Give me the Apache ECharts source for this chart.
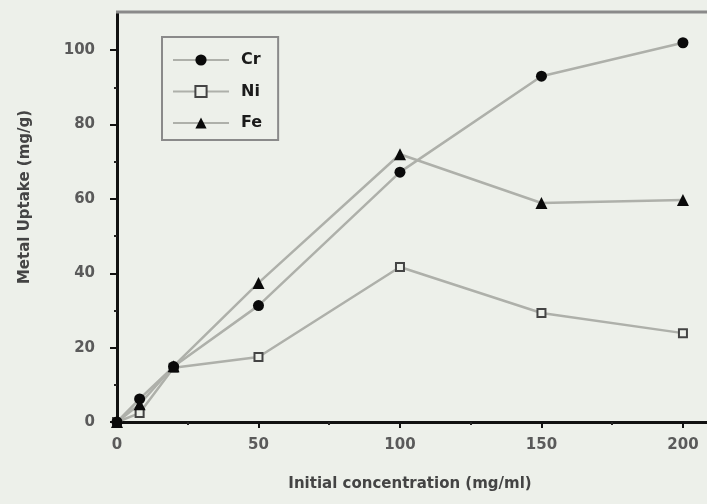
<!DOCTYPE html>
<html>
<head>
<meta charset="utf-8">
<script src="https://cdn.jsdelivr.net/npm/echarts@6/dist/echarts.min.js"></script>
<style>html,body{margin:0;padding:0;background:#edf0ea;}#c{width:707px;height:504px;}</style>
</head>
<body>
<div id="c"></div>
<script>
const xValues = [0, 8, 20, 50, 100, 150, 200];
const crValues = [0, 6.2, 14.9, 31.3, 67.2, 93, 102];
const niValues = [0, 2.4, 14.6, 17.5, 41.7, 29.3, 23.9];
const feValues = [0, 4.8, 15, 37.4, 72, 58.9, 59.7];
const xTicks = [0, 50, 100, 150, 200];
const xMinorTicks = [25, 75, 125, 175];
const yTicks = [0, 20, 40, 60, 80, 100];
const yMinorTicks = [10, 30, 50, 70, 90];

const pairs = v => xValues.map((x, i) => [x, v[i]]);
const font = 'DejaVu Sans';
const lineCol = '#aeb0aa';
const bg = '#edf0ea';

const chart = echarts.init(document.getElementById('c'), null, {renderer: 'canvas'});
chart.setOption({
  backgroundColor: bg,
  animation: false,
  grid: {left: 117, right: 0, top: 13, bottom: 82},
  legend: {
    left: 162, top: 37, orient: 'vertical',
    padding: [15, 16, 9, 10],
    itemWidth: 56, itemHeight: 14, itemGap: 15.5,
    borderColor: '#8a8a8a', borderWidth: 2,
    textStyle: {fontFamily: font, fontWeight: 'bold', fontSize: 16, color: '#1a1a1a', padding: [0, 0, 0, 7]},
    data: ['Cr', 'Ni', 'Fe']
  },
  xAxis: [{
    type: 'value', min: 0, max: 208.5, interval: 50,
    axisLine: {show: true, lineStyle: {color: '#111', width: 3}},
    axisTick: {show: true, inside: false, length: 6, lineStyle: {color: '#111', width: 2}, customValues: xTicks},
    axisLabel: {customValues: xTicks, margin: 16, fontFamily: font, fontWeight: 'bold', fontSize: 15, color: '#5a5a5a'},
    splitLine: {show: false}
  }, {
    type: 'value', min: 0, max: 208.5, position: 'bottom',
    axisLine: {show: false},
    axisTick: {show: true, inside: false, length: 3, lineStyle: {color: '#222', width: 2}, customValues: xMinorTicks},
    axisLabel: {show: false},
    splitLine: {show: false}
  }],
  yAxis: [{
    type: 'value', min: 0, max: 110, interval: 20,
    axisLine: {show: true, lineStyle: {color: '#111', width: 3}},
    axisTick: {show: true, inside: false, length: 7, lineStyle: {color: '#111', width: 2}, customValues: yTicks},
    axisLabel: {customValues: yTicks, margin: 22, fontFamily: font, fontWeight: 'bold', fontSize: 15, color: '#5a5a5a'},
    splitLine: {show: false}
  }, {
    type: 'value', min: 0, max: 110, position: 'left',
    axisLine: {show: false},
    axisTick: {show: true, inside: false, length: 3, lineStyle: {color: '#222', width: 2}, customValues: yMinorTicks},
    axisLabel: {show: false},
    splitLine: {show: false}
  }],
  graphic: [
    {type: 'line', shape: {x1: 116, y1: 12, x2: 707, y2: 12}, style: {stroke: '#8a8a8a', lineWidth: 3}, z: 10},
    {type: 'text', x: 25, y: 197, rotation: Math.PI / 2,
     style: {text: 'Metal Uptake (mg/g)', fontFamily: font, fontWeight: 'bold', fontSize: 15, fill: '#444', align: 'center', verticalAlign: 'middle'}},
    {type: 'text', x: 410, y: 484,
     style: {text: 'Initial concentration (mg/ml)', fontFamily: font, fontWeight: 'bold', fontSize: 15, fill: '#444', align: 'center', verticalAlign: 'middle'}}
  ],
  series: [
    {name: 'Ni', type: 'line', data: pairs(niValues), symbol: 'rect', symbolSize: 8, z: 2,
     lineStyle: {color: lineCol, width: 2.5}, itemStyle: {color: bg, borderColor: '#444', borderWidth: 2}},
    {name: 'Cr', type: 'line', data: pairs(crValues), symbol: 'circle', symbolSize: 11, z: 3,
     lineStyle: {color: lineCol, width: 2.5}, itemStyle: {color: '#0a0a0a', borderWidth: 0}},
    {name: 'Fe', type: 'line', data: pairs(feValues), symbol: 'triangle', symbolSize: 12, z: 3,
     lineStyle: {color: lineCol, width: 2.5}, itemStyle: {color: '#0a0a0a', borderWidth: 0}}
  ]
});
</script>
</body>
</html>
